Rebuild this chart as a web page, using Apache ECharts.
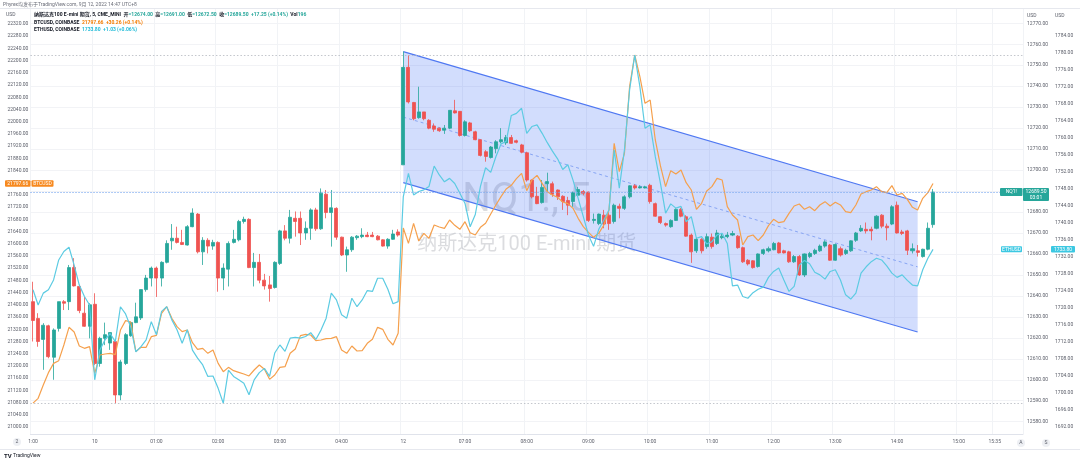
<!DOCTYPE html>
<html><head><meta charset="utf-8">
<script src="https://cdn.jsdelivr.net/npm/echarts/dist/echarts.min.js"></script>
<style>html,body{margin:0;padding:0;background:#fff}#c{width:1080px;height:462px}</style>
</head><body><div id="c"></div>
<script>
// ---- NQ1! 5-min candles ----
const nqOpen = [12637.25,12629.25,12619.25,12625.75,12610.75,12624.5,12637.25,12637.25,12653.5,12644.5,12631.75,12625.5,12636.0,12607.75,12619.75,12617.5,12618.25,12592.75,12607.75,12621.0,12627.25,12629.5,12643.0,12648.5,12653.25,12648.5,12656.0,12666.25,12667.5,12665.5,12664.25,12673.0,12679.0,12661.0,12666.5,12663.75,12665.5,12648.5,
12652.75,12665.5,12666.75,12675.5,12676.5,12653.5,12656.0,12647.5,12645.25,12644.0,12655.5,12671.0,12667.5,12677.0,12677.0,12670.0,12672.25,12681.0,12672.0,12688.5,12679.75,12681.75,12668.0,12659.5,12662.0,12667.75,12668.25,12669.0,12669.0,12668.5,12666.75,12663.75,12667.0,12670.5,
12702.5,12749.0,12732.25,12725.0,12727.75,12723.75,12721.0,12720.0,12719.0,12720.0,12728.25,12728.0,12716.5,12722.5,12718.25,12714.5,12708.75,12706.0,12710.25,12713.5,12713.0,12715.5,12714.0,12712.0,12708.25,12695.25,12687.5,12684.5,12693.5,12693.5,12690.5,12687.5,12685.5,12685.0,12688.0,12689.75,12689.5,12676.0,12674.5,12678.5,12678.5,12675.5,12682.75,12681.75,12687.25,12692.5,12691.5,12691.5,12692.75,12684.0,12677.75,
12674.5,12673.0,12676.0,12681.25,12677.75,12669.0,12661.5,12667.0,12663.5,12668.0,12665.0,12667.75,12668.25,12669.0,12668.5,12663.0,12657.0,12656.75,12654.0,12660.25,12661.5,12662.0,12665.25,12661.5,12661.0,12656.25,12658.75,12650.0,12658.75,12660.25,12661.5,12663.75,12664.25,12657.0,12662.5,12660.25,12661.5,12666.5,12671.0,12671.75,12671.75,12672.25,12678.5,12673.25,12674.25,12683.25,12670.5,12671.0,12661.5,12661.5,12658.75,12662.25,12674.0];
const nqHigh = [12646.75,12631.75,12627.0,12626.25,12624.5,12637.25,12638.0,12654.75,12658.0,12645.25,12639.5,12636.5,12641.25,12620.5,12627.25,12622.5,12619.0,12609.5,12622.25,12627.75,12636.75,12643.0,12650.0,12654.0,12654.0,12656.5,12666.5,12674.25,12673.0,12671.5,12673.75,12681.75,12679.5,12668.0,12667.5,12666.75,12666.0,12655.5,
12666.0,12671.5,12676.25,12677.75,12677.0,12660.5,12660.0,12650.5,12649.5,12656.5,12671.5,12673.75,12681.0,12680.25,12680.25,12675.5,12681.75,12682.0,12691.25,12690.5,12690.5,12682.25,12668.25,12663.5,12668.5,12669.0,12672.25,12670.5,12670.5,12669.0,12667.0,12667.5,12671.5,12671.75,
12756.5,12754.75,12732.5,12739.75,12727.75,12724.25,12722.25,12720.25,12721.5,12728.5,12733.5,12728.0,12723.75,12723.0,12718.75,12714.5,12709.5,12711.5,12714.25,12720.0,12716.75,12716.75,12714.5,12712.5,12708.75,12695.5,12692.0,12695.25,12698.75,12694.5,12690.75,12688.0,12687.25,12689.75,12692.0,12690.5,12689.75,12679.25,12679.25,12681.0,12680.0,12684.0,12684.0,12688.0,12692.75,12693.25,12692.75,12692.5,12693.5,12684.5,12678.0,
12675.0,12676.5,12681.75,12682.0,12678.5,12669.75,12667.75,12667.5,12669.75,12669.75,12671.5,12670.0,12670.5,12671.0,12669.0,12663.5,12657.5,12657.0,12660.25,12662.5,12663.5,12665.75,12665.75,12662.0,12661.5,12659.5,12659.5,12660.25,12661.0,12662.5,12664.5,12666.5,12664.75,12665.0,12663.5,12662.5,12666.5,12670.5,12673.75,12675.0,12673.0,12678.5,12679.0,12674.5,12683.25,12685.0,12671.5,12671.5,12665.0,12664.25,12662.5,12675.0,12691.0];
const nqLow = [12618.25,12615.75,12604.75,12610.25,12600.0,12623.0,12633.25,12633.25,12644.5,12631.75,12625.25,12619.75,12607.0,12606.25,12616.5,12614.25,12588.75,12590.25,12607.0,12620.5,12627.0,12628.5,12642.0,12644.5,12639.5,12644.5,12655.5,12662.0,12665.0,12664.25,12664.0,12672.75,12660.25,12654.75,12660.25,12662.0,12642.0,12642.75,
12644.5,12665.0,12666.0,12674.5,12653.25,12644.5,12646.0,12643.0,12637.25,12643.5,12654.75,12666.5,12665.0,12668.25,12664.25,12666.75,12666.75,12671.0,12671.5,12677.0,12663.5,12666.75,12659.0,12651.5,12661.0,12666.75,12667.5,12668.0,12668.0,12666.5,12663.5,12662.5,12666.75,12668.25,
12702.5,12731.75,12723.75,12724.5,12723.75,12719.5,12718.25,12718.25,12717.25,12719.5,12727.0,12716.0,12716.0,12718.25,12714.25,12706.5,12704.0,12705.5,12708.0,12712.75,12712.0,12712.5,12712.75,12708.0,12694.5,12686.5,12683.75,12684.0,12689.75,12687.25,12685.75,12681.0,12678.5,12682.5,12687.25,12688.0,12675.25,12674.5,12673.75,12672.25,12671.5,12674.5,12677.0,12681.0,12686.5,12690.75,12691.25,12691.25,12684.0,12677.75,12674.25,
12673.0,12672.5,12675.75,12677.5,12668.25,12655.75,12660.5,12660.25,12662.5,12662.5,12664.25,12667.0,12667.5,12668.5,12662.5,12655.75,12654.5,12653.0,12653.5,12659.5,12660.75,12661.75,12660.25,12660.25,12655.75,12655.75,12649.5,12649.0,12658.0,12659.5,12661.0,12663.0,12656.75,12656.75,12658.75,12659.5,12661.0,12665.75,12670.5,12669.75,12666.5,12671.75,12672.25,12666.5,12673.75,12669.75,12669.0,12659.5,12660.25,12658.75,12658.25,12661.75,12672.5];
const nqClose = [12628.25,12618.25,12626.0,12611.0,12623.75,12637.25,12636.5,12653.5,12644.75,12633.0,12625.5,12635.75,12607.75,12619.75,12621.5,12622.5,12592.75,12608.5,12621.5,12627.25,12630.0,12643.0,12648.5,12653.25,12648.5,12656.0,12665.0,12667.5,12665.5,12664.5,12673.0,12679.5,12661.0,12666.5,12663.75,12665.5,12648.5,12653.25,
12665.0,12667.0,12675.5,12676.5,12653.5,12656.0,12647.5,12644.75,12643.5,12656.0,12671.0,12667.5,12677.5,12675.5,12670.0,12672.25,12681.0,12672.0,12689.0,12679.75,12682.0,12668.0,12659.5,12662.0,12668.0,12668.5,12669.0,12668.25,12668.25,12666.75,12663.75,12667.0,12669.5,12669.0,
12749.0,12732.5,12724.5,12727.75,12724.5,12720.0,12719.5,12718.75,12720.0,12728.5,12727.25,12716.5,12723.0,12718.75,12714.5,12707.0,12706.5,12711.0,12713.5,12714.5,12715.5,12712.75,12713.25,12708.5,12695.25,12687.25,12684.0,12691.75,12694.5,12688.5,12687.25,12685.0,12683.25,12689.25,12690.75,12689.0,12676.0,12676.5,12679.0,12674.25,12674.5,12683.25,12681.75,12687.25,12692.5,12691.5,12692.0,12692.0,12685.0,12678.0,12675.0,
12673.75,12676.0,12681.25,12678.0,12668.5,12661.0,12667.0,12661.5,12668.25,12663.5,12670.0,12668.5,12669.0,12669.75,12663.0,12656.25,12655.25,12653.5,12660.0,12662.0,12662.5,12665.0,12660.5,12660.5,12656.25,12658.75,12650.0,12660.0,12660.25,12661.75,12663.75,12665.75,12657.0,12664.5,12659.5,12661.75,12666.25,12670.0,12672.25,12671.0,12671.0,12678.0,12673.25,12672.5,12682.5,12670.0,12669.75,12661.75,12662.5,12660.75,12662.25,12672.25,12689.5];
// ---- BTCUSD (left scale) and ETHUSD (far right scale), one value per bar ----
const btc = [21078.0,21093.9,21137.6,21178.0,21208.5,21217.3,21268.6,21326.5,21311.2,21265.3,21257.7,21263.1,21175.8,21235.8,21239.1,21241.3,21236.9,21317.7,21348.3,21343.9,21246.8,21261.0,21261.0,21295.9,21300.3,21372.3,21394.2,21355.9,21328.6,21312.3,21317.7,21276.2,21254.4,21257.7,21241.3,21252.2,21208.5,21181.2,
21195.4,21184.5,21179.1,21173.6,21167.1,21186.7,21203.1,21188.9,21156.1,21170.3,21195.4,21197.6,21241.3,21255.5,21299.2,21303.5,21301.3,21282.8,21285.0,21289.3,21290.4,21295.9,21252.2,21241.3,21265.3,21249.0,21250.0,21274.1,21287.2,21326.5,21319.9,21287.2,21268.6,21306.8,
21651.8,21601.6,21667.1,21609.2,21634.4,21618.0,21661.7,21655.1,21650.7,21678.0,21660.6,21647.5,21672.5,21636.5,21628.9,21654.0,21667.1,21697.7,21727.2,21754.5,21779.6,21791.6,21813.4,21830.9,21774.1,21809.0,21824.3,21798.1,21770.8,21759.9,21752.3,21737.0,21731.5,21716.2,21683.5,21656.2,21637.6,21621.3,21634.4,21661.7,21710.8,21929.2,21836.3,21896.4,22114.7,22218.5,22147.5,22060.2,22071.1,21940.1,21855.0,
21787.2,21839.6,21828.7,21841.8,21800.3,21776.3,21713.0,21732.6,21773.0,21787.2,21814.5,21809.0,21721.7,21694.4,21678.0,21596.2,21623.4,21628.9,21610.3,21628.9,21659.5,21680.2,21669.3,21672.6,21699.9,21723.9,21730.4,21713.0,21721.7,21708.6,21727.2,21738.1,21723.9,21735.9,21727.2,21705.3,21702.0,21727.2,21763.2,21770.8,21776.3,21787.2,21770.8,21767.6,21790.5,21759.9,21765.4,21745.7,21719.5,21710.8,21749.0,21767.6,21797.66];
const eth = [1724.3,1720.7,1723.5,1724.3,1726.6,1731.3,1733.3,1734.3,1730.1,1725.4,1722.7,1720.7,1703.1,1710.1,1712.5,1714.0,1712.1,1720.3,1718.6,1715.5,1709.7,1710.9,1712.5,1716.8,1713.7,1719.2,1720.3,1717.2,1714.9,1711.7,1714.9,1710.1,1708.2,1706.6,1703.9,1704.0,1701.1,1697.6,
1705.4,1703.9,1703.1,1702.3,1699.6,1703.1,1704.8,1705.8,1703.9,1709.4,1711.3,1709.8,1712.9,1713.1,1712.9,1713.3,1714.2,1712.6,1714.8,1717.6,1723.5,1721.9,1718.4,1717.6,1722.3,1720.3,1721.9,1724.1,1723.9,1727.0,1727.0,1724.4,1721.0,1721.5,
1746.2,1751.7,1746.6,1747.4,1747.8,1748.6,1753.4,1751.3,1749.7,1750.5,1749.3,1747.0,1744.6,1739.1,1742.0,1748.6,1753.0,1751.9,1755.6,1758.6,1759.2,1765.3,1765.8,1767.0,1761.1,1762.7,1763.1,1761.1,1758.9,1756.9,1755.1,1752.6,1753.7,1750.1,1745.8,1741.5,1737.2,1734.5,1738.5,1740.7,1743.1,1757.2,1748.2,1757.2,1771.3,1779.5,1772.1,1762.3,1763.1,1755.6,1749.3,
1742.3,1744.5,1743.5,1743.9,1740.3,1741.5,1736.4,1736.8,1735.1,1735.6,1737.2,1737.6,1735.2,1725.2,1725.4,1722.7,1722.3,1723.6,1724.4,1724.9,1727.2,1728.6,1729.4,1726.6,1723.9,1725.1,1730.1,1731.2,1730.4,1728.4,1727.8,1726.8,1728.6,1729.0,1726.6,1723.1,1722.1,1723.5,1728.2,1729.7,1730.9,1731.7,1731.3,1729.9,1728.2,1727.2,1727.8,1726.5,1725.4,1725.2,1729.0,1731.7,1733.80];
// ---- descending channel drawn on the NQ scale: [bar index], [price] ----
const channelIdx = [72, 172];
const channelTop = [12756.5, 12684.9];
const channelBottom = [12694.0, 12622.8];
// ---- time axis labels ----
const tickIdx = [0,12,24,36,48,60,72,84,96,108,120,132,144,156,168,180,187];
const tickText = ['1:00','10','01:00','02:00','03:00','04:00','12','07:00','08:00','09:00','10:00','11:00','12:00','13:00','14:00','15:00','15:35'];
const N_CAT = 193;

const cats = [];
for (let i = 0; i < N_CAT; i++) {
  let m = i < 72 ? (23 * 60 + 5 * i) : (6 * 60 + 5 * (i - 72));
  m = m % 1440;
  cats.push(String(Math.floor(m / 60)).padStart(2, '0') + ':' + String(m % 60).padStart(2, '0'));
}
const tickMap = {};
tickIdx.forEach((k, j) => tickMap[k] = tickText[j]);
const showTick = (i) => tickMap[i] !== undefined;

const FONT = 'Roboto, "Noto Sans CJK SC", sans-serif';
const GL = 30.43, GR = 56.97;
const UP = '#26a69a', DOWN = '#ef5350';
const ORANGE = '#f5a04d', CYAN = '#5ccbe2';
const axisTxt = { fontSize: 5, color: '#5d606b', fontFamily: FONT };

const chart = echarts.init(document.getElementById('c'), null, { renderer: 'canvas' });

const hx = (k) => ({ type: 'category', gridIndex: k, data: cats, boundaryGap: true, show: false });

const last = nqClose.length - 1;
const option = {
  animation: false,
  backgroundColor: '#ffffff',
  textStyle: { fontFamily: FONT },
  title: [
    { text: 'Phyrex均发布于TradingView.com, 9月 12, 2022 14:47 UTC+8', left: 3, top: 2, padding: 0,
      textStyle: { fontSize: 5, color: '#6a6d78', fontWeight: 'normal' } },
    { text: '{t|纳斯达克100 E-mini 期货, 5, CME_MINI}  {l|开}{g|=12674.00}  {l|高}{g|=12691.00}  {l|低}{g|=12672.50}  {l|收}{g|=12689.50  +17.25 (+0.14%)}  {l|Vol}{g|196}',
      left: 34, top: 12.5, padding: 0,
      textStyle: { fontSize: 5, rich: { t: { fontSize: 5, color: '#131722' }, l: { fontSize: 5, color: '#131722' }, g: { fontSize: 5, color: UP } } } },
    { text: '{t|BTCUSD, COINBASE}  {o|21797.66  +30.26 (+0.14%)}', left: 34, top: 20.5, padding: 0,
      textStyle: { fontSize: 5, rich: { t: { fontSize: 5, color: '#131722' }, o: { fontSize: 5, color: '#f57c00' } } } },
    { text: '{t|ETHUSD, COINBASE}  {c|1733.80  +1.03 (+0.06%)}', left: 34, top: 27, padding: 0,
      textStyle: { fontSize: 5, rich: { t: { fontSize: 5, color: '#131722' }, c: { fontSize: 5, color: '#26bcd8' } } } }
  ],
  grid: [
    { left: GL, right: GR, top: 9, bottom: 28 },
    { left: GL, right: GR, top: 23.3, height: 398.4 },
    { left: GL, right: GR, top: 24, height: 403 },
    { left: GL, right: GR, top: 36, height: 391 }
  ],
  xAxis: [
    { type: 'category', gridIndex: 0, data: cats, boundaryGap: true,
      axisLine: { show: true, lineStyle: { color: '#e0e3eb' } }, axisTick: { show: false },
      axisLabel: { interval: (i) => showTick(i), formatter: (v, i) => tickMap[i] || '', margin: 5, ...axisTxt },
      splitLine: { show: true, interval: (i) => showTick(i), lineStyle: { color: '#f1f3f6', width: 1 } } },
    hx(1), hx(2), hx(3)
  ],
  yAxis: [
    { type: 'value', gridIndex: 0, min: 0, max: 1, show: false },
    { type: 'value', gridIndex: 1, position: 'right', min: 12580, max: 12770, interval: 10,
      axisLine: { show: false }, axisTick: { show: false },
      axisLabel: { margin: 4, formatter: (v) => v.toFixed(2), ...axisTxt },
      splitLine: { show: true, lineStyle: { color: '#f2f3f6', width: 1 } } },
    { type: 'value', gridIndex: 2, position: 'left', min: 21000, max: 22320, interval: 40,
      axisLine: { show: false }, axisTick: { show: false },
      axisLabel: { margin: 2, formatter: (v) => v.toFixed(2), ...axisTxt },
      splitLine: { show: false } },
    { type: 'value', gridIndex: 3, position: 'right', offset: 28, min: 1692, max: 1784, interval: 4,
      axisLine: { show: false }, axisTick: { show: false },
      axisLabel: { margin: 4, formatter: (v) => v.toFixed(2), ...axisTxt },
      splitLine: { show: false } }
  ],
  series: [
    { type: 'custom', name: 'channel', xAxisIndex: 1, yAxisIndex: 1, z: 1, silent: true, clip: false,
      data: [0],
      renderItem: function (params, api) {
        const t0 = api.coord([channelIdx[0], channelTop[0]]);
        const t1 = api.coord([channelIdx[1], channelTop[1]]);
        const b0 = api.coord([channelIdx[0], channelBottom[0]]);
        const b1 = api.coord([channelIdx[1], channelBottom[1]]);
        const m0 = [(t0[0] + b0[0]) / 2, (t0[1] + b0[1]) / 2];
        const m1 = [(t1[0] + b1[0]) / 2, (t1[1] + b1[1]) / 2];
        return { type: 'group', children: [
          { type: 'polygon', shape: { points: [t0, t1, b1, b0] }, style: { fill: 'rgba(48,100,245,0.22)' } },
          { type: 'polyline', shape: { points: [t0, t1] }, style: { stroke: '#4f78f2', lineWidth: 1.2, fill: null } },
          { type: 'polyline', shape: { points: [b0, b1] }, style: { stroke: '#4f78f2', lineWidth: 1.2, fill: null } },
          { type: 'polyline', shape: { points: [m0, m1] }, style: { stroke: '#7f9ef2', lineWidth: 0.9, lineDash: [3, 3], fill: null } }
        ] };
      } },
    { type: 'candlestick', name: 'NQ1!', xAxisIndex: 1, yAxisIndex: 1, z: 3, barWidth: 3.6,
      data: nqOpen.map((o, i) => [o, nqClose[i], nqLow[i], nqHigh[i]]),
      itemStyle: { color: UP, color0: DOWN, borderColor: UP, borderColor0: DOWN, borderColorDoji: UP, borderWidth: 0.8 },
      markLine: { silent: true, symbol: ['none', 'none'], label: { show: false },
        lineStyle: { type: [1.2, 1.8], color: '#7aa8f0', width: 1 },
        data: [{ yAxis: nqClose[last] }] } },
    { type: 'line', name: 'BTCUSD', xAxisIndex: 2, yAxisIndex: 2, z: 4, data: btc, showSymbol: false, symbol: 'none',
      lineStyle: { color: ORANGE, width: 1.2 },
      markLine: { silent: true, symbol: ['none', 'none'], label: { show: false },
        lineStyle: { type: [1.5, 2], color: '#b4b7bf', width: 0.8 },
        data: [{ type: 'max' }, { type: 'min' }] } },
    { type: 'line', name: 'ETHUSD', xAxisIndex: 3, yAxisIndex: 3, z: 4, data: eth, showSymbol: false, symbol: 'none',
      lineStyle: { color: CYAN, width: 1.2 } }
  ]
};
chart.setOption(option);

// ---- last-value tags placed through the axes' own scales ----
const yB = chart.convertToPixel({ yAxisIndex: 2 }, btc[btc.length - 1]);
const yN = chart.convertToPixel({ yAxisIndex: 1 }, nqClose[last]);
const yE = chart.convertToPixel({ yAxisIndex: 3 }, eth[eth.length - 1]);
const plotR = 1080 - GR;
function tag(x, y, w, h, fill, text) {
  return [
    { type: 'rect', z: 50, shape: { x: x, y: y - h / 2, width: w, height: h, r: 1 }, style: { fill: fill } },
    { type: 'text', z: 51, x: x + w / 2, y: y, style: { text: text, fill: '#fff', font: '5px ' + FONT, align: 'center', verticalAlign: 'middle' } }
  ];
}
const wm = 'rgba(125,128,140,0.28)';
const gfx = [].concat(
  // watermark
  { type: 'text', z: 0, x: (GL + plotR) / 2, y: 201, style: { text: 'NQ1!, 5', font: '40px ' + FONT, fill: wm, align: 'center', verticalAlign: 'middle' } },
  { type: 'text', z: 0, x: (GL + plotR) / 2, y: 245, style: { text: '纳斯达克100 E-mini 期货', font: '20px ' + FONT, fill: wm, align: 'center', verticalAlign: 'middle' } },
  // frame lines
  { type: 'line', z: 5, shape: { x1: 0, y1: 8.5, x2: 1080, y2: 8.5 }, style: { stroke: '#e6e8ee', lineWidth: 1 } },
  { type: 'line', z: 5, shape: { x1: 0, y1: 449.5, x2: 1080, y2: 449.5 }, style: { stroke: '#e6e8ee', lineWidth: 1 } },
  // axis currency captions
  { type: 'text', z: 5, x: 6, y: 15, style: { text: 'USD', font: '5px ' + FONT, fill: '#5d606b', verticalAlign: 'middle' } },
  { type: 'text', z: 5, x: 1027, y: 15.5, style: { text: 'USD', font: '5px ' + FONT, fill: '#5d606b', verticalAlign: 'middle' } },
  { type: 'text', z: 5, x: 1055, y: 15.5, style: { text: 'USD', font: '5px ' + FONT, fill: '#5d606b', verticalAlign: 'middle' } },
  // value tags
  tag(5, yB, 25.5, 6.5, '#f7891e', btc[btc.length - 1].toFixed(2)),
  tag(31.5, yB, 22, 6.5, '#f7891e', 'BTCUSD'),
  tag(1000, yN, 22.5, 8, UP, 'NQ1!'),
  [{ type: 'rect', z: 50, shape: { x: 1023, y: yN - 4, width: 26, height: 13, r: 1 }, style: { fill: UP } },
   { type: 'text', z: 51, x: 1036, y: yN, style: { text: nqClose[last].toFixed(2), fill: '#fff', font: '5px ' + FONT, align: 'center', verticalAlign: 'middle' } },
   { type: 'text', z: 51, x: 1036, y: yN + 5.5, style: { text: '03:01', fill: '#fff', font: '5px ' + FONT, align: 'center', verticalAlign: 'middle' } }],
  tag(1001, yE, 21, 6, '#3cc8e2', 'ETHUSD'),
  tag(1051, yE, 24, 6.5, '#3cc8e2', eth[eth.length - 1].toFixed(2)),
  // bottom controls & logo
  { type: 'circle', z: 5, shape: { cx: 17, cy: 442, r: 4 }, style: { fill: '#eef0f4' } },
  { type: 'text', z: 6, x: 17, y: 442, style: { text: '2', font: '5px ' + FONT, fill: '#5d606b', align: 'center', verticalAlign: 'middle' } },
  { type: 'circle', z: 5, shape: { cx: 1021, cy: 443, r: 4 }, style: { fill: '#eef0f4' } },
  { type: 'text', z: 6, x: 1021, y: 443, style: { text: 'A', font: '5px ' + FONT, fill: '#5d606b', align: 'center', verticalAlign: 'middle' } },
  { type: 'circle', z: 5, shape: { cx: 1046, cy: 443, r: 4 }, style: { fill: '#eef0f4' } },
  { type: 'text', z: 6, x: 1046, y: 443, style: { text: 'S', font: '5px ' + FONT, fill: '#5d606b', align: 'center', verticalAlign: 'middle' } },
  { type: 'text', z: 6, x: 4, y: 456, style: { text: 'TV', font: 'bold 6px ' + FONT, fill: '#131722', verticalAlign: 'middle' } },
  { type: 'text', z: 6, x: 13, y: 456, style: { text: 'TradingView', font: '5px ' + FONT, fill: '#131722', verticalAlign: 'middle' } }
);
chart.setOption({ graphic: { elements: gfx } });
</script>
</body></html>
